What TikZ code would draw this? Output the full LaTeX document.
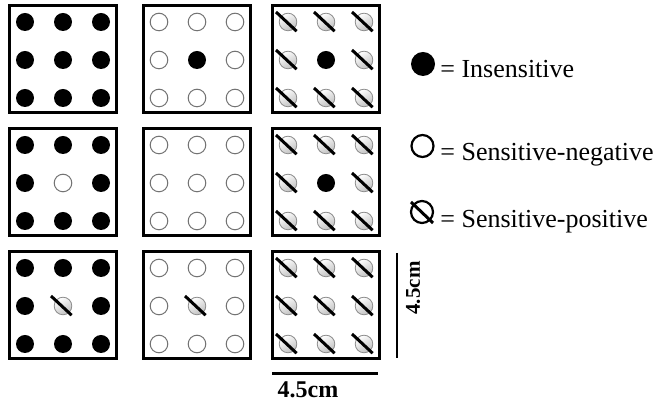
\documentclass[tikz,border=0pt]{standalone}
\usepackage{fontspec}
\setmainfont{Liberation Serif}
\usetikzlibrary{calc}
\begin{document}
\begin{tikzpicture}[x=0.5bp, y=-0.5bp,
  every node/.style={inner sep=0pt},
  panel/.style={draw, line width=1.5bp},
  mkF/.style={circle, fill=black, minimum size=9bp},
  mkO/.style={circle, draw=black!55, line width=0.5bp, fill=white, minimum size=8.8bp},
  mkS/.style={circle, draw=black!45, line width=0.4bp, top color=white,
              bottom color=black!25, shading angle=30, minimum size=8.8bp},
  slash/.style={line width=1.5bp},
  lgd/.style={font=\fontsize{13bp}{15bp}\selectfont, anchor=base west},
  bar/.style={line width=1.2bp},
  dim/.style={font=\fontsize{10.5bp}{12bp}\selectfont\bfseries}]
  \useasboundingbox (0,0) rectangle (665,402);
  % the nine panels, marks listed row by row
  \foreach \nm/\x/\y/\marks in {
      p11/9/6/{F,F,F,F,F,F,F,F,F},   p12/143/6/{O,O,O,O,F,O,O,O,O},   p13/272/6/{S,S,S,S,F,S,S,S,S},
      p21/9/129/{F,F,F,F,O,F,F,F,F}, p22/143/129/{O,O,O,O,O,O,O,O,O}, p23/272/129/{S,S,S,S,F,S,S,S,S},
      p31/9/252/{F,F,F,F,S,F,F,F,F}, p32/143/252/{O,O,O,O,S,O,O,O,O}, p33/272/252/{S,S,S,S,S,S,S,S,S}} {
    \draw[panel] (\x,\y) rectangle ++(107,107);
    \foreach \m [count=\i from 0] in \marks {
      \pgfmathtruncatemacro\row{div(\i,3)}
      \pgfmathtruncatemacro\col{mod(\i,3)}
      \node[mk\m] (\nm-\i) at (\x+16+38*\col, \y+16+38*\row) {};
      \if S\m
        \draw[slash] ([shift={(-6bp,5bp)}]\nm-\i.center) -- ([shift={(4.3bp,-4.6bp)}]\nm-\i.center);
      \fi
    }
  }
  % legend
  \node[mkF, minimum size=12bp] (kF) at (423,64) {};
  \node[lgd] (tF) at (440,78) {= Insensitive};
  \node[circle, draw, line width=1.1bp, minimum size=11bp] (kO) at (422.5,146) {};
  \node[lgd] (tO) at (440,161) {= Sensitive-negative};
  \node[circle, draw, line width=1.1bp, minimum size=11bp] (kS) at (422,212) {};
  \draw[slash] ([shift={(-5.5bp,5bp)}]kS.center) -- ([shift={(5.5bp,-5.5bp)}]kS.center);
  \node[lgd] (tS) at (440,228) {= Sensitive-positive};
  % scale bars
  \coordinate (vt) at (397,253);
  \coordinate (vb) at (397,358);
  \draw[bar] (vt) -- (vb);
  \node[dim, rotate=90] (vlab) at (413,288) {4.5cm};
  \coordinate (hl) at (272,373.5);
  \coordinate (hr) at (378,373.5);
  \draw[bar, line width=1.5bp] (hl) -- (hr);
  \node[dim, font=\fontsize{12bp}{14bp}\selectfont\bfseries] (hlab) at (308,390) {4.5cm};
\end{tikzpicture}
\end{document}
